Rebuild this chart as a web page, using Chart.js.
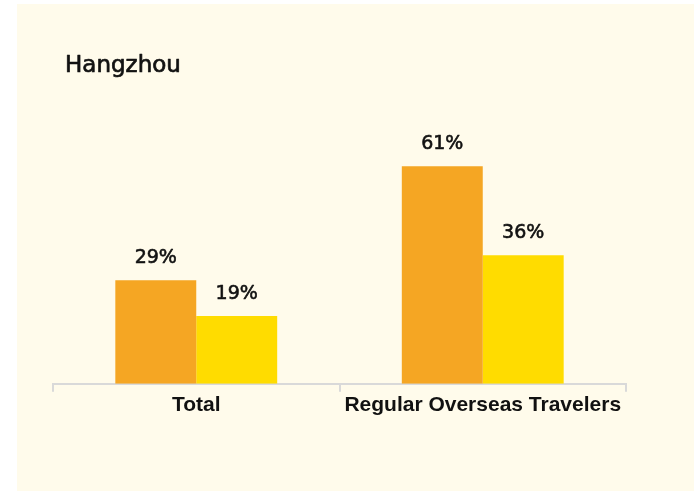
<!DOCTYPE html>
<html>
<head>
<meta charset="utf-8">
<title>Hangzhou</title>
<script src="https://cdn.jsdelivr.net/npm/chart.js@4.4.1/dist/chart.umd.min.js"></script>
<style>
  html, body { margin: 0; padding: 0; background: #ffffff; }
  #wrap { width: 694px; height: 491px; }
</style>
</head>
<body>
<div id="wrap"><canvas id="hz" width="694" height="491"></canvas></div>
<script>
// data
const categories = ['Total', 'Regular Overseas Travelers'];
const seriesFirst = [29, 61];
const seriesSecond = [19, 36];
const titleText = 'Hangzhou';

const cream = '#fffbeb';
const axisGray = '#d9d9d9';
const ink = '#111111';

// text with a thin outline so it reads a bit heavier than the regular face
function heavyText(ctx, str, x, y, w) {
    ctx.lineWidth = w;
    ctx.strokeStyle = ink;
    ctx.lineJoin = 'round';
    ctx.strokeText(str, x, y);
    ctx.fillText(str, x, y);
}

// cream panel behind everything, plus the title
const panelPlugin = {
    id: 'panel',
    beforeDraw(chart) {
        const ctx = chart.ctx;
        ctx.save();
        ctx.fillStyle = '#ffffff';
        ctx.fillRect(0, 0, chart.width, chart.height);
        ctx.fillStyle = cream;
        ctx.fillRect(17, 4, chart.width - 17, chart.height - 4);
        ctx.fillStyle = ink;
        ctx.font = '23px "DejaVu Sans"';
        ctx.textBaseline = 'alphabetic';
        ctx.textAlign = 'left';
        heavyText(ctx, titleText, 65, 72, 0.7);
        ctx.restore();
    }
};

// percentage labels over each bar
const valueLabels = {
    id: 'valueLabels',
    afterDatasetsDraw(chart) {
        const ctx = chart.ctx;
        ctx.save();
        ctx.fillStyle = ink;
        ctx.font = '19px "DejaVu Sans"';
        ctx.textAlign = 'center';
        ctx.textBaseline = 'alphabetic';
        chart.data.datasets.forEach((ds, i) => {
            chart.getDatasetMeta(i).data.forEach((bar, j) => {
                heavyText(ctx, ds.data[j] + '%', bar.x, bar.y - 17, 0.6);
            });
        });
        ctx.restore();
    }
};

new Chart(document.getElementById('hz'), {
    type: 'bar',
    data: {
        labels: categories,
        datasets: [
            { label: 'Group 1', data: seriesFirst, backgroundColor: '#f5a623' },
            { label: 'Group 2', data: seriesSecond, backgroundColor: '#ffdc00' }
        ]
    },
    options: {
        responsive: false,
        animation: false,
        layout: { padding: { top: 27, left: 53, right: 68, bottom: 72 } },
        datasets: {
            bar: { categoryPercentage: 0.565, barPercentage: 1.0 }
        },
        plugins: {
            legend: { display: false },
            tooltip: { enabled: false },
            title: { display: false }
        },
        scales: {
            x: {
                offset: true,
                grid: {
                    offset: true,
                    drawOnChartArea: false,
                    drawTicks: true,
                    tickLength: 8,
                    color: axisGray,
                    lineWidth: 2
                },
                border: { display: true, color: axisGray, width: 2 },
                ticks: {
                    padding: 1,
                    color: ink,
                    font: { family: 'Liberation Sans', size: 21, weight: 'bold' }
                }
            },
            y: {
                display: false,
                min: 0,
                max: 100
            }
        }
    },
    plugins: [panelPlugin, valueLabels]
});
</script>
</body>
</html>
